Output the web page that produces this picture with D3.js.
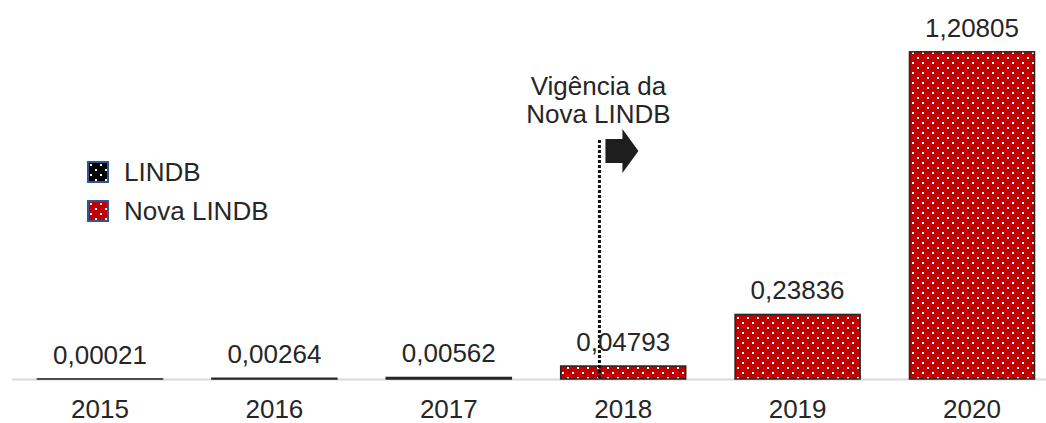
<!DOCTYPE html>
<html>
<head>
<meta charset="utf-8">
<script src="https://cdn.jsdelivr.net/npm/d3@7"></script>
<style>
  body { margin: 0; background: #fff; }
  svg { display: block; font-family: "Liberation Sans", Arial, sans-serif; }
</style>
</head>
<body>
<div id="chart"></div>
<script>
const years = ["2015", "2016", "2017", "2018", "2019", "2020"]
const values = [0.00021, 0.00264, 0.00562, 0.04793, 0.23836, 1.20805]
const seriesOf = ["LINDB", "LINDB", "LINDB", "Nova LINDB", "Nova LINDB", "Nova LINDB"]
const seriesNames = ["LINDB", "Nova LINDB"]
const seriesColors = ["#000000", "#c00000"]
const annotationLines = ["Vigência da", "Nova LINDB"]
const annotationYear = "2018"

const width = 1046
const height = 423
const baseline = 379
const fontSize = 26

const fmt = v => d3.format(".5f")(v).replace(".", ",")

const svg = d3.select("#chart").append("svg")
  .attr("width", width)
  .attr("height", height)

// dotted fills
const defs = svg.append("defs")
seriesNames.forEach((name, i) => {
  const p = defs.append("pattern")
    .attr("id", "pat" + i)
    .attr("patternUnits", "userSpaceOnUse")
    .attr("width", 10)
    .attr("height", 10)
  p.append("rect").attr("width", 10).attr("height", 10).attr("fill", seriesColors[i])
  p.append("rect").attr("x", 2).attr("y", 2).attr("width", 2).attr("height", 2).attr("fill", "#fff")
  p.append("rect").attr("x", 7).attr("y", 7).attr("width", 2).attr("height", 2).attr("fill", "#fff")
})

const x = d3.scaleBand()
  .domain(years)
  .range([12.8, 1059.2])
  .paddingInner(0.283)
  .paddingOuter(0.1415)

const y = d3.scaleLinear()
  .domain([0, 1.2])
  .range([baseline, 54])

// axis baseline
svg.append("line")
  .attr("x1", 12).attr("x2", width)
  .attr("y1", baseline + 0.5).attr("y2", baseline + 0.5)
  .attr("stroke", "#d9d9d9")
  .attr("stroke-width", 2)

const data = years.map((yr, i) => ({ year: yr, value: values[i], series: seriesOf[i] }))

svg.append("g").selectAll("rect")
  .data(data)
  .join("rect")
    .attr("x", d => x(d.year))
    .attr("y", d => y(d.value))
    .attr("width", x.bandwidth())
    .attr("height", d => baseline - y(d.value))
    .attr("fill", d => `url(#pat${seriesNames.indexOf(d.series)})`)
    .attr("stroke", "#262626")
    .attr("stroke-width", 1.5)

// annotation (dotted line + arrow)
const ax = x(annotationYear) + x.bandwidth() * 0.31
svg.append("line")
  .attr("x1", ax).attr("x2", ax)
  .attr("y1", 140).attr("y2", baseline)
  .attr("stroke", "#111")
  .attr("stroke-width", 3)
  .attr("stroke-dasharray", "3 2")

const arrow = d3.path()
arrow.moveTo(ax + 6, 139)
arrow.lineTo(ax + 23, 139)
arrow.lineTo(ax + 23, 129)
arrow.lineTo(ax + 39, 151)
arrow.lineTo(ax + 23, 173)
arrow.lineTo(ax + 23, 163)
arrow.lineTo(ax + 6, 163)
arrow.closePath()
svg.append("path").attr("d", arrow.toString()).attr("fill", "#1e1e1e")

svg.append("text")
  .attr("x", ax - 1)
  .attr("text-anchor", "middle")
  .attr("font-size", fontSize)
  .attr("fill", "#262626")
  .selectAll("tspan")
  .data(annotationLines)
  .join("tspan")
    .attr("x", ax - 1)
    .attr("y", (d, i) => 95 + i * 28)
    .text(d => d)

// value labels
svg.append("g").selectAll("text")
  .data(data)
  .join("text")
    .attr("x", d => x(d.year) + x.bandwidth() / 2)
    .attr("y", d => y(d.value) - 15)
    .attr("text-anchor", "middle")
    .attr("font-size", fontSize)
    .attr("fill", "#262626")
    .text(d => fmt(d.value))

// category labels
const xAxis = svg.append("g")
  .attr("transform", `translate(0, ${baseline})`)
  .call(d3.axisBottom(x).tickSize(0).tickPadding(0))
xAxis.select(".domain").remove()
xAxis.selectAll("text")
  .attr("dy", 0)
  .attr("y", 39)
  .attr("font-size", fontSize)
  .attr("font-family", "Liberation Sans, Arial, sans-serif")
  .attr("fill", "#262626")

// legend
const legend = svg.append("g").selectAll("g")
  .data(seriesNames)
  .join("g")
    .attr("transform", (d, i) => `translate(88, ${162 + i * 39})`)
legend.append("rect")
  .attr("width", 20).attr("height", 20)
  .attr("fill", (d, i) => `url(#pat${i})`)
  .attr("stroke", "#2f5597")
  .attr("stroke-width", 2)
legend.append("text")
  .attr("x", 36)
  .attr("y", 19)
  .attr("font-size", fontSize)
  .attr("fill", "#262626")
  .text(d => d)
</script>
</body>
</html>
